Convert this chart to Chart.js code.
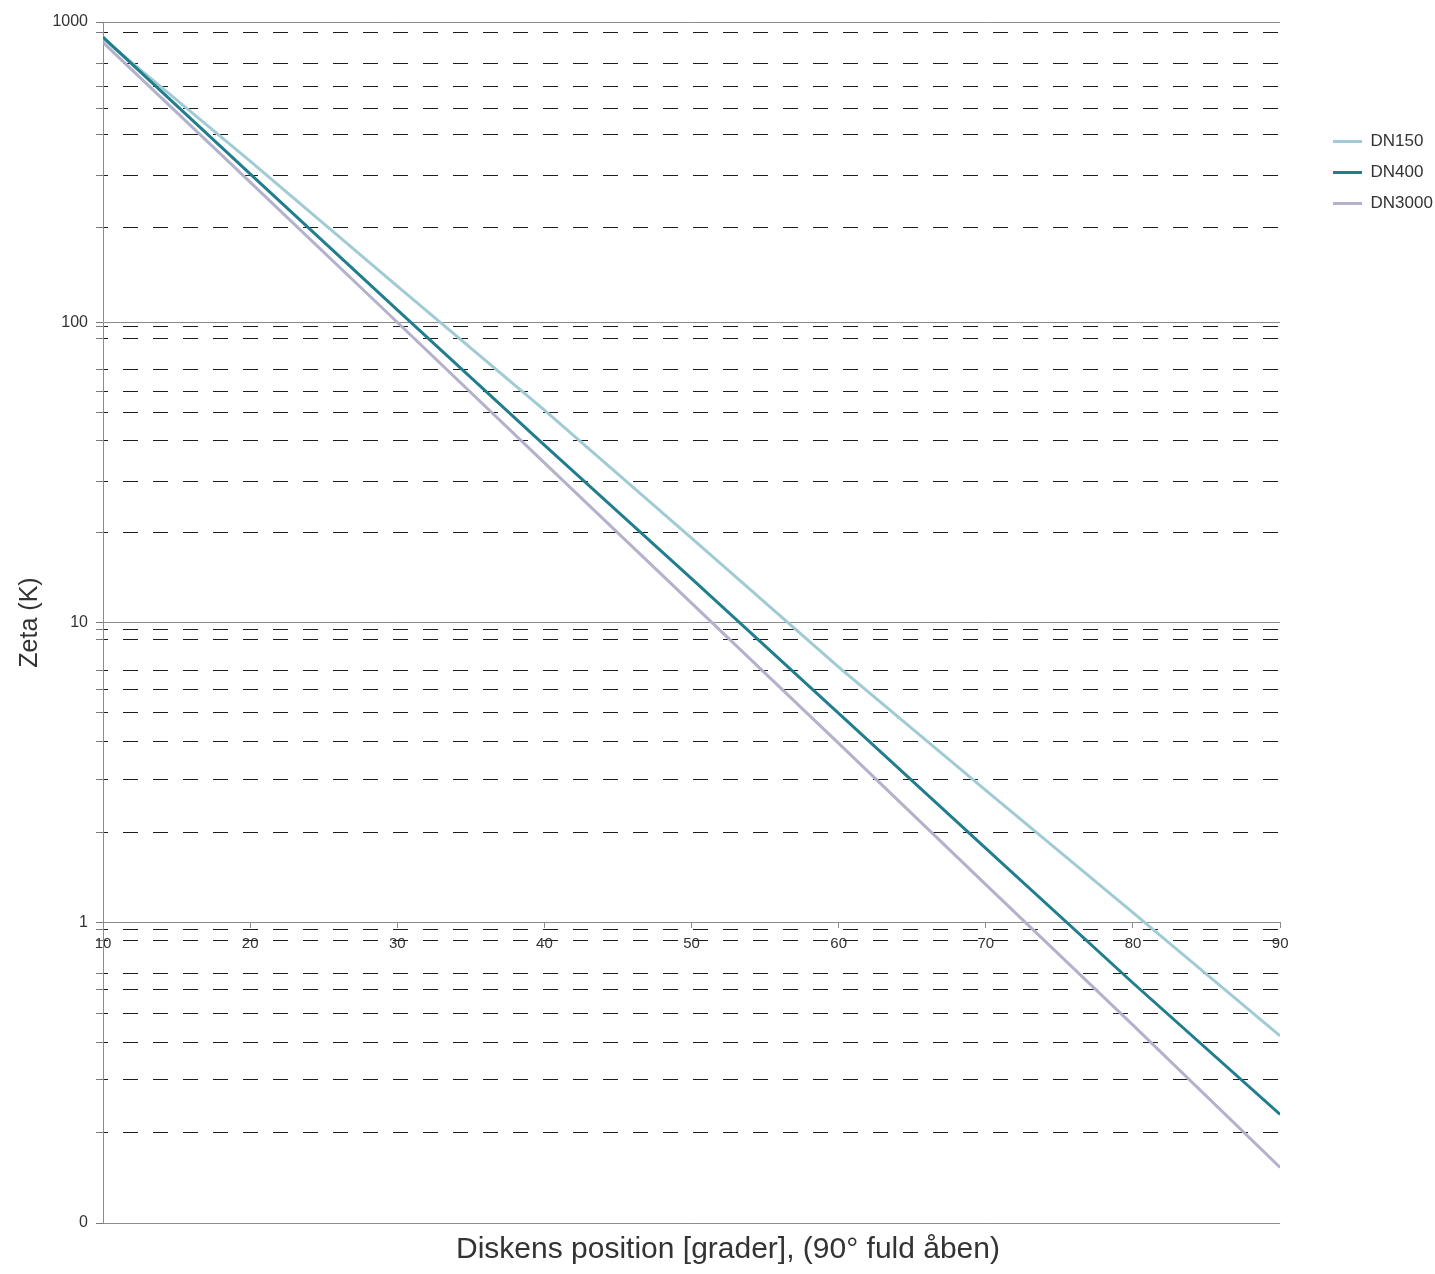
<!DOCTYPE html>
<html>
<head>
<meta charset="utf-8">
<script src="https://cdn.jsdelivr.net/npm/chart.js@4.4.0/dist/chart.umd.min.js"></script>
<style>
  html, body { margin: 0; padding: 0; background: #fff; }
  #wrap { width: 1435px; height: 1274px; position: relative; }
</style>
</head>
<body>
<div id="wrap"><canvas id="zetaGraph"></canvas></div>
<script>
// disc position in degrees (90 = fully open)
var positions = [10, 20, 30, 40, 50, 60, 70, 80, 90];
// zeta (K)
var dn150  = [880, 344, 132, 51, 19.1, 7.1, 2.76, 1.08, 0.42];
var dn400  = [890, 312, 110, 39, 14.0, 4.98, 1.77, 0.63, 0.23];
var dn3000 = [855, 293, 100, 34, 11.6, 3.96, 1.34, 0.456, 0.153];
var seriesNames = ["DN150", "DN400", "DN3000"];

var xTicks = [10, 20, 30, 40, 50, 60, 70, 80, 90];
var yMajorTicks = [0.1, 1, 10, 100, 1000];
var yMinorTicks = [0.2, 0.3, 0.4, 0.5, 0.6, 0.68, 0.87, 0.95,
                   2, 3, 4, 5, 6, 6.9, 8.8, 9.5,
                   20, 29.5, 40.5, 50, 59, 69.6, 88.4, 96.8,
                   207, 307, 421, 517, 612, 728, 922];

Chart.defaults.font.family = '"Liberation Sans", Arial, Helvetica, sans-serif';
Chart.defaults.color = '#333';

function toPoints(vals) {
    return positions.map(function (p, i) { return { x: p, y: vals[i] }; });
}
function isMajor(ctx) {
    return ctx.tick && yMajorTicks.indexOf(ctx.tick.value) >= 0;
}

// move the legend up near the top right, and the bottom title a bit right
var legendNudge = {
    id: 'legendNudge',
    afterLayout: function (chart) {
        var lg = chart.legend;
        var w = lg.width, h = lg.height;
        lg.left = 1333 - lg.options.labels.padding; lg.right = lg.left + w;
        lg.top = 119; lg.bottom = lg.top + h;
        var tb = chart.titleBlock;
        tb.left += 26; tb.right += 26;
    }
};

var zetaConfig = {
    type: 'line',
    data: {
        datasets: [{
            label: seriesNames[0],
            data: toPoints(dn150),
            borderColor: '#a1cbd4',
            backgroundColor: '#a1cbd4',
            borderWidth: 3,
            order: 1
        }, {
            label: seriesNames[1],
            data: toPoints(dn400),
            borderColor: '#217e8d',
            backgroundColor: '#217e8d',
            borderWidth: 3,
            order: 0
        }, {
            label: seriesNames[2],
            data: toPoints(dn3000),
            borderColor: '#b4b1cc',
            backgroundColor: '#b4b1cc',
            borderWidth: 3,
            order: 2
        }]
    },
    options: {
        responsive: true,
        maintainAspectRatio: false,
        animation: false,
        elements: {
            line: { tension: 0 },
            point: { radius: 0 }
        },
        layout: { padding: { top: 22, left: 0, right: 31, bottom: 0 } },
        scales: {
            x: {
                type: 'linear',
                min: 10,
                max: 90,
                position: { y: 1 },
                afterBuildTicks: function (scale) {
                    scale.ticks = xTicks.map(function (v) { return { value: v }; });
                },
                afterFit: function (scale) { scale.height = 0; },
                grid: { drawOnChartArea: false, tickLength: 5, tickColor: '#8c8c8c' },
                border: { color: '#8c8c8c' },
                ticks: { padding: 7, maxRotation: 0, autoSkip: false, font: { size: 15 }, color: '#333' }
            },
            y: {
                type: 'logarithmic',
                min: 0.1,
                max: 1000,
                afterBuildTicks: function (scale) {
                    scale.ticks = yMajorTicks.concat(yMinorTicks).map(function (v) {
                        return { value: v, major: yMajorTicks.indexOf(v) >= 0 };
                    });
                },
                afterFit: function (scale) { scale.width = 103; },
                ticks: {
                    autoSkip: false,
                    padding: 8,
                    font: { size: 16 },
                    color: '#333',
                    callback: function (v) {
                        if (yMajorTicks.indexOf(v) < 0) return '';
                        return v === 0.1 ? '0' : String(v);
                    }
                },
                grid: {
                    color: function (ctx) { return isMajor(ctx) ? '#8c8c8c' : '#1e1e1e'; },
                    tickColor: '#7a7a7a',
                    tickLength: 7,
                    lineWidth: 1
                },
                border: {
                    color: '#8c8c8c',
                    dash: function (ctx) { return (ctx.tick && !isMajor(ctx)) ? [15, 15] : []; },
                    dashOffset: 11
                },
                title: {
                    display: true,
                    text: 'Zeta (K)',
                    font: { size: 25 },
                    color: '#333',
                    padding: { top: 15, bottom: 0 }
                }
            }
        },
        plugins: {
            legend: {
                position: 'right',
                align: 'start',
                labels: {
                    usePointStyle: true,
                    pointStyle: 'line',
                    pointStyleWidth: 29,
                    boxHeight: 17,
                    padding: 14,
                    font: { size: 17 },
                    color: '#333',
                    sort: function (a, b) { return a.datasetIndex - b.datasetIndex; }
                }
            },
            title: {
                display: true,
                position: 'bottom',
                text: 'Diskens position [grader], (90° fuld åben)',
                font: { size: 30, weight: 'normal' },
                color: '#333',
                padding: { top: 9, bottom: 6 }
            },
            tooltip: { enabled: false }
        }
    },
    plugins: [legendNudge]
};

var zetaCtx = document.getElementById('zetaGraph');
var zetaChart = new Chart(zetaCtx, zetaConfig);
</script>
</body>
</html>
